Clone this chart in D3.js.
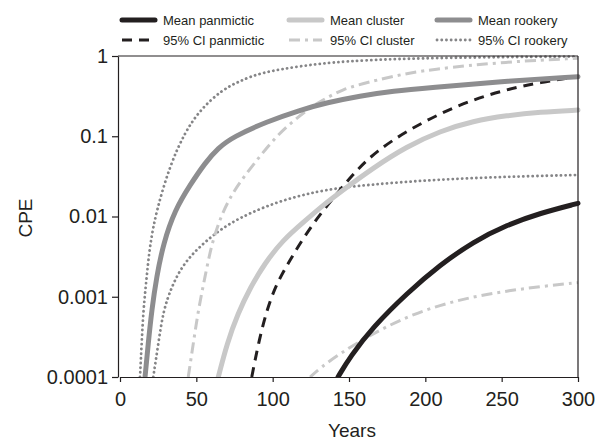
<!DOCTYPE html>
<html>
<head>
<meta charset="utf-8">
<script src="https://cdn.jsdelivr.net/npm/d3@7"></script>
<style>
  body { margin: 0; background: #fff; }
  svg { display: block; }
  text { font-family: "Liberation Sans", Arial, Helvetica, sans-serif; fill: #231f20; }
</style>
</head>
<body>
<svg id="chart" width="606" height="440"></svg>
<script>
// values (years, CPE)
const xTicks = [0, 50, 100, 150, 200, 250, 300];
const yTicks = [0.0001, 0.001, 0.01, 0.1, 1];
const yTickLabels = ["0.0001", "0.001", "0.01", "0.1", "1"];

const rookeryMeanX = [16.4, 18.5, 20.8, 24, 28.4, 36, 45.9, 55.7, 64.2, 74.2, 96.1, 117.9, 135.4, 157.2, 179, 203, 249, 300];
const rookeryMeanY = [0.0001, 0.000263, 0.000684, 0.00178, 0.00463, 0.0121, 0.0247, 0.0465, 0.0714, 0.0986, 0.152, 0.212, 0.262, 0.318, 0.366, 0.403, 0.479, 0.552];

const rookeryHiX = [13.1, 14.2, 15.3, 17.5, 19.7, 24, 32.8, 42.6, 52.4, 66.6, 78.6, 91.7, 117.9, 146.3, 200.9, 300];
const rookeryHiY = [0.0001, 0.000263, 0.000684, 0.00178, 0.00463, 0.0121, 0.0438, 0.113, 0.212, 0.377, 0.488, 0.619, 0.75, 0.867, 0.952, 0.986];

const rookeryLoX = [21.8, 25.1, 28.4, 33.9, 39.3, 45.9, 52.4, 61.1, 72, 85.2, 104.8, 124.5, 144.1, 183.4, 222.7, 262, 300];
const rookeryLoY = [0.0001, 0.00026, 0.000684, 0.00133, 0.00215, 0.00316, 0.0042, 0.0059, 0.0082, 0.0111, 0.0156, 0.0196, 0.023, 0.0269, 0.0298, 0.0316, 0.0329];

const clusterMeanX = [64.4, 70.1, 77.3, 85.2, 95, 106.8, 119.9, 132.3, 146.1, 165.7, 187.8, 209.6, 231.4, 253.3, 275.1, 300];
const clusterMeanY = [0.0001, 0.000263, 0.000622, 0.00129, 0.00264, 0.0051, 0.0084, 0.0135, 0.0214, 0.0402, 0.0745, 0.116, 0.155, 0.1815, 0.2, 0.212];

const clusterHiX = [44.7, 48, 51.3, 55.7, 60.1, 66.6, 73.4, 80.6, 91.7, 102.6, 113.5, 124.5, 135.4, 146.3, 157.2, 179, 203, 253.3, 300];
const clusterHiY = [0.0001, 0.00026, 0.000684, 0.00178, 0.00463, 0.0107, 0.0191, 0.0302, 0.0567, 0.1007, 0.155, 0.227, 0.302, 0.385, 0.444, 0.563, 0.683, 0.849, 0.936];

const clusterLoX = [124.5, 131, 144.1, 165.9, 187.8, 209.6, 231.4, 253.3, 275.1, 300];
const clusterLoY = [0.0001, 0.000129, 0.000197, 0.00035, 0.000564, 0.000789, 0.001, 0.00118, 0.00134, 0.0015];

const panMeanX = [142.8, 150.7, 165.9, 187.8, 209.6, 231.4, 253.3, 275.1, 300];
const panMeanY = [0.0001, 0.000179, 0.000423, 0.0011, 0.00249, 0.00485, 0.00784, 0.011, 0.0146];

const panHiX = [86.3, 90.6, 96.1, 102.6, 111.4, 120.1, 131, 144.1, 155, 168.1, 187.8, 209.6, 231.4, 253.3, 275.1, 300];
const panHiY = [0.0001, 0.00026, 0.000684, 0.00147, 0.00287, 0.0054, 0.0107, 0.0214, 0.0379, 0.0655, 0.116, 0.192, 0.287, 0.383, 0.468, 0.555];

const legendLabels = ["Mean panmictic", "Mean cluster", "Mean rookery",
                      "95% CI panmictic", "95% CI cluster", "95% CI rookery"];

const svg = d3.select("#chart");
const plotLeft = 120, plotRight = 578, plotTop = 56, plotBottom = 377;

const x = d3.scaleLinear().domain([0, 300]).range([plotLeft, plotRight]);
const y = d3.scaleLog().domain([0.0001, 1]).range([plotBottom, plotTop]);

const black = "#231f20", rookGrey = "#8d8d8f", clusGrey = "#c8c8c8", dotGrey = "#858587";

// styles per series
const styles = {
  panMean:  { color: black,    width: 5,   dash: null,       cap: "round" },
  clusMean: { color: clusGrey, width: 5,   dash: null,       cap: "round" },
  rookMean: { color: rookGrey, width: 5,   dash: null,       cap: "round" },
  panCI:    { color: black,    width: 3,   dash: "10,7",     cap: "butt" },
  clusCI:   { color: clusGrey, width: 3,   dash: "11,5,3,5", cap: "butt" },
  rookCI:   { color: dotGrey,  width: 2.8, dash: "0.1,4.6",  cap: "round" }
};

const series = [
  { xs: rookeryHiX,  ys: rookeryHiY,  s: styles.rookCI },
  { xs: rookeryLoX,  ys: rookeryLoY,  s: styles.rookCI },
  { xs: clusterHiX,  ys: clusterHiY,  s: styles.clusCI },
  { xs: clusterLoX,  ys: clusterLoY,  s: styles.clusCI },
  { xs: panHiX,      ys: panHiY,      s: styles.panCI },
  { xs: clusterMeanX, ys: clusterMeanY, s: styles.clusMean },
  { xs: rookeryMeanX, ys: rookeryMeanY, s: styles.rookMean },
  { xs: panMeanX,    ys: panMeanY,    s: styles.panMean }
];

svg.append("clipPath").attr("id", "clip")
  .append("rect").attr("x", plotLeft - 4).attr("y", plotTop - 3)
  .attr("width", plotRight - plotLeft + 7).attr("height", plotBottom - plotTop + 3);

// a B-spline smooths out the small wobble of the hand-read points
const line = d3.line()
  .x(d => x(d[0]))
  .y(d => y(d[1]))
  .curve(d3.curveBasis);

const plot = svg.append("g").attr("clip-path", "url(#clip)");
plot.selectAll("path")
  .data(series).enter()
  .append("path")
  .attr("d", d => line(d.xs.map((v, i) => [v, d.ys[i]])))
  .style("fill", "none")
  .style("stroke", d => d.s.color)
  .style("stroke-width", d => d.s.width)
  .style("stroke-dasharray", d => d.s.dash)
  .style("stroke-linecap", d => d.s.cap);

// frame
const frame = svg.append("g").style("stroke", black).style("stroke-width", 1.2).style("fill", "none");
frame.append("line").attr("x1", 118).attr("x2", plotRight).attr("y1", plotTop).attr("y2", plotTop);
frame.append("line").attr("x1", plotRight).attr("x2", plotRight).attr("y1", plotTop).attr("y2", plotBottom);

// axes
const xAxis = d3.axisBottom(x).tickValues(xTicks).tickSize(5).tickPadding(6).tickSizeOuter(0);
const gx = svg.append("g").attr("transform", `translate(0,${plotBottom})`).call(xAxis);
gx.select(".domain").attr("d", `M${plotLeft},0.5H${plotRight}`);

const yAxis = d3.axisLeft(y).tickValues(yTicks).tickFormat((d, i) => yTickLabels[i])
  .tickSize(6).tickPadding(4).tickSizeOuter(0);
const gy = svg.append("g").attr("transform", "translate(118,0)").call(yAxis);

[gx, gy].forEach(g => {
  g.selectAll("path, line").style("stroke", black).style("stroke-width", 1.2);
  g.selectAll("text").style("font-size", "20px").style("fill", black)
    .style("font-family", "'Liberation Sans', Arial, sans-serif");
});
gx.selectAll("text").attr("dy", "0.9em");

svg.append("text").attr("x", 352).attr("y", 437)
  .attr("text-anchor", "middle").style("font-size", "19px").text("Years");
svg.append("text").attr("transform", "translate(32,218) rotate(-90)")
  .attr("text-anchor", "middle").style("font-size", "19px").text("CPE");

// legend
const legStyles = [styles.panMean, styles.clusMean, styles.rookMean,
                   styles.panCI, styles.clusCI, styles.rookCI];
const colX = [122, 289, 437];
const rowY = [20, 40];
const leg = svg.append("g").selectAll("g")
  .data(legendLabels).enter().append("g")
  .attr("transform", (d, i) => `translate(${colX[i % 3]},${rowY[Math.floor(i / 3)]})`);
leg.append("line")
  .attr("x1", 0).attr("x2", 33).attr("y1", 0).attr("y2", 0)
  .each(function(d, i) {
    const s = legStyles[i];
    d3.select(this).style("stroke", s.color).style("stroke-width", s.width)
      .style("stroke-dasharray", s.dash).style("stroke-linecap", s.cap);
  });
leg.append("text").attr("x", 41).attr("y", 0).attr("dy", "0.36em")
  .style("font-size", "13px").text(d => d);
</script>
</body>
</html>
